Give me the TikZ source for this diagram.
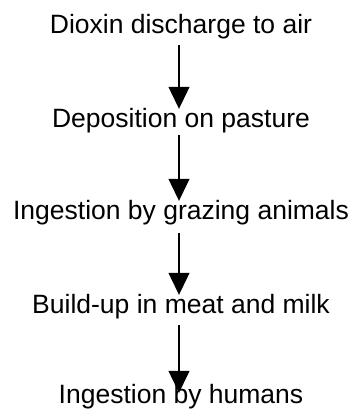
\documentclass[tikz,border=0pt]{standalone}
\usepackage{fontspec}
\setmainfont{Liberation Sans}
\usetikzlibrary{arrows.meta}

\tikzset{
  stage/.style={anchor=base,inner sep=0pt,text height=19pt,text depth=6pt,
    font=\fontsize{26.5}{31}\selectfont},
  flow/.style={line width=1.2pt,-{Triangle[width=21pt,length=22pt]},
    shorten <=6pt,shorten >=-1pt}
}

\begin{document}
\begin{tikzpicture}[x=1pt,y=1pt]
  \useasboundingbox (0,0) rectangle (352,-410);
  \node[stage] (discharge) at (181,-33) {Dioxin discharge to air};
  \node[stage] (deposition) at (181,-127) {Deposition on pasture};
  \node[stage] (grazing) at (181,-219) {Ingestion by grazing animals};
  \node[stage] (buildup) at (181,-313) {Build-up in meat and milk};
  \node[stage] (humans) at (181,-403) {Ingestion by humans};
  \draw[flow] ([xshift=-2pt]discharge.south) -- ([xshift=-2pt]deposition.north);
  \draw[flow,shorten <=2pt] ([xshift=-2pt]deposition.south) -- ([xshift=-2pt]grazing.north);
  \draw[flow,shorten <=8pt] ([xshift=-2pt]grazing.south) -- ([xshift=-2pt]buildup.north);
  \draw[flow,shorten >=-9pt] ([xshift=-2pt]buildup.south) -- ([xshift=-2pt]humans.north);
\end{tikzpicture}
\end{document}
